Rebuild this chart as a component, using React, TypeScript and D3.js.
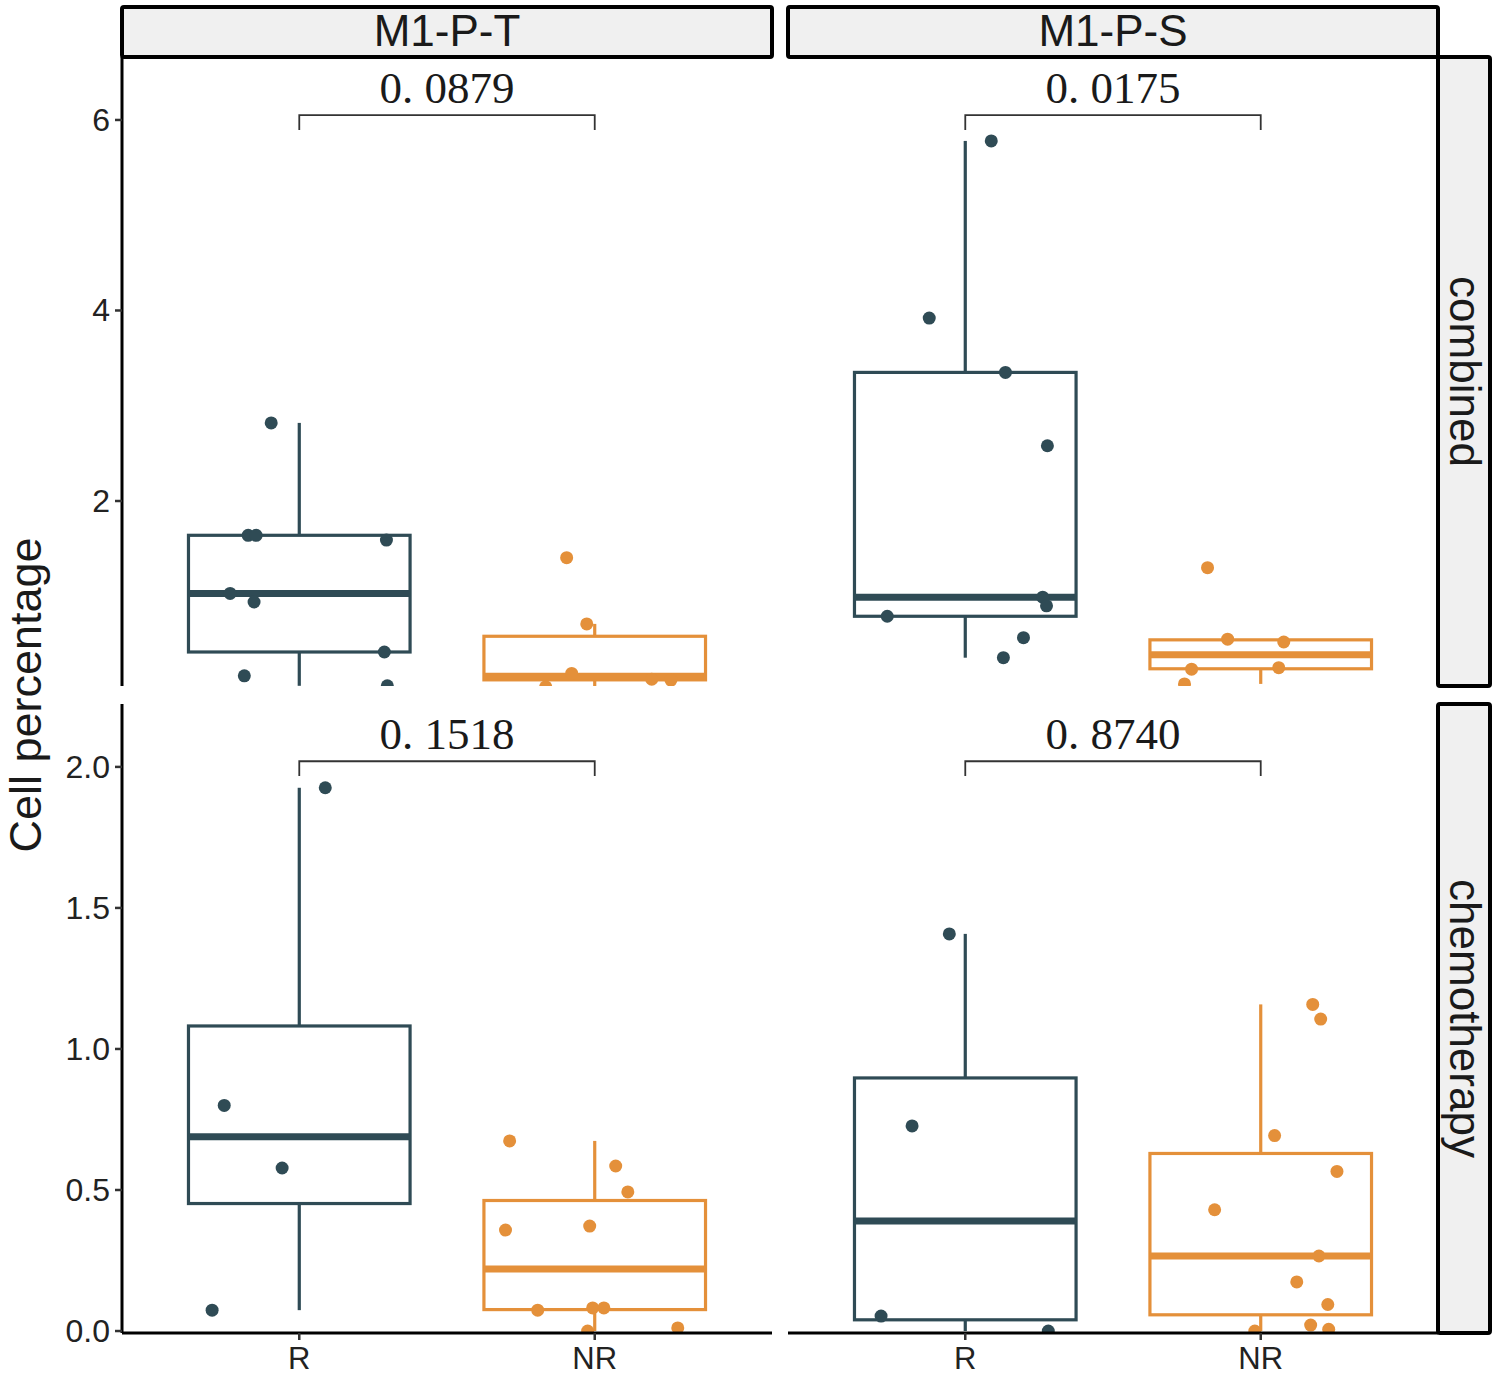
import React from "react";
import * as d3 from "d3";

// ---------- data ----------
const subsets = ["M1-P-T", "M1-P-S"];
const treatments = ["combined", "chemotherapy"];
const groups = ["R", "NR"];
const groupColors = ["#2F4B55", "#E4903A"];

// combined / M1-P-T
const combT_R = [2.82, 1.64, 1.64, 1.59, 1.03, 0.94, 0.415, 0.165, 0.06];
const combT_R_jit = [-0.095, -0.173, -0.146, 0.295, -0.234, -0.153, 0.288, -0.186, 0.298];
const combT_NR = [1.405, 0.71, 0.19, 0.05, 0.13, 0.12];
const combT_NR_jit = [-0.095, -0.027, -0.078, -0.166, 0.193, 0.258];
// combined / M1-P-S
const combS_R = [5.78, 3.92, 3.35, 2.58, 0.99, 0.9, 0.79, 0.565, 0.355];
const combS_R_jit = [0.088, -0.122, 0.136, 0.278, 0.262, 0.275, -0.264, 0.197, 0.129];
const combS_NR = [1.3, 0.55, 0.52, 0.235, 0.25, 0.08];
const combS_NR_jit = [-0.18, -0.112, 0.078, -0.234, 0.061, -0.258];
// chemotherapy / M1-P-T
const chemT_R = [1.926, 0.8, 0.578, 0.074];
const chemT_R_jit = [0.088, -0.254, -0.058, -0.295];
const chemT_NR = [0.674, 0.585, 0.493, 0.358, 0.372, 0.074, 0.082, 0.082, 0.011, 0.0];
const chemT_NR_jit = [-0.288, 0.071, 0.112, -0.302, -0.017, -0.193, -0.007, 0.031, 0.281, -0.024];
// chemotherapy / M1-P-S
const chemS_R = [1.408, 0.727, 0.053, 0.0];
const chemS_R_jit = [-0.054, -0.18, -0.285, 0.281];
const chemS_NR = [1.158, 1.106, 0.693, 0.566, 0.43, 0.266, 0.174, 0.094, 0.021, 0.006, 0.0];
const chemS_NR_jit = [0.176, 0.203, 0.047, 0.258, -0.156, 0.197, 0.122, 0.227, 0.169, 0.23, -0.02];

const pValues = [
  ["0. 0879", "0. 0175"],
  ["0. 1518", "0. 8740"],
];

const yTicks = [
  [2, 4, 6],
  [0, 0.5, 1.0, 1.5, 2.0],
];
const yTickLabels = [
  ["2", "4", "6"],
  ["0.0", "0.5", "1.0", "1.5", "2.0"],
];
const yDomains = [
  [0.058, 6.661],
  [-0.007, 2.223],
];
const bracketLevels = [6.05, 2.02];
const bracketTips = [5.895, 1.968];

const panelValues = [
  [
    [combT_R, combT_NR],
    [combS_R, combS_NR],
  ],
  [
    [chemT_R, chemT_NR],
    [chemS_R, chemS_NR],
  ],
];
const panelJitter = [
  [
    [combT_R_jit, combT_NR_jit],
    [combS_R_jit, combS_NR_jit],
  ],
  [
    [chemT_R_jit, chemT_NR_jit],
    [chemS_R_jit, chemS_NR_jit],
  ],
];

// ---------- layout ----------
const W = 1496;
const H = 1374;
const colX = [
  [122, 772],
  [788, 1438],
];
const rowY = [
  [57, 686],
  [704, 1333],
];
const stripTop = 7;
const stripRight = 1490;
const sans = "'Liberation Sans', Arial, sans-serif";
const serif = "'Liberation Serif', 'Times New Roman', serif";

function boxStats(vals: number[]) {
  const s = [...vals].sort(d3.ascending);
  const q1 = d3.quantile(s, 0.25) as number;
  const med = d3.quantile(s, 0.5) as number;
  const q3 = d3.quantile(s, 0.75) as number;
  const iqr = q3 - q1;
  const lo = d3.min(s.filter((v) => v >= q1 - 1.5 * iqr)) as number;
  const hi = d3.max(s.filter((v) => v <= q3 + 1.5 * iqr)) as number;
  return { q1, med, q3, lo, hi };
}

function Panel({ r, c }: { r: number; c: number }) {
  const [x0, x1] = colX[c];
  const [y0, y1] = rowY[r];
  const x = d3.scaleLinear().domain([0.4, 2.6]).range([x0, x1]);
  const y = d3.scaleLinear().domain(yDomains[r]).range([y1, y0]);
  const clipId = `clip-${r}-${c}`;
  const bw = 0.75;
  return (
    <g>
      <defs>
        <clipPath id={clipId}>
          <rect x={x0} y={y0} width={x1 - x0} height={y1 - y0} />
        </clipPath>
      </defs>
      <g clipPath={`url(#${clipId})`}>
        {groups.map((g, gi) => {
          const vals = panelValues[r][c][gi];
          const st = boxStats(vals);
          const cx = x(gi + 1);
          const col = groupColors[gi];
          const bl = x(gi + 1 - bw / 2);
          const br = x(gi + 1 + bw / 2);
          return (
            <g key={g}>
              <line x1={cx} x2={cx} y1={y(st.q3)} y2={y(st.hi)} stroke={col} strokeWidth={3.2} />
              <line x1={cx} x2={cx} y1={y(st.q1)} y2={y(st.lo)} stroke={col} strokeWidth={3.2} />
              <rect
                x={bl}
                y={y(st.q3)}
                width={br - bl}
                height={y(st.q1) - y(st.q3)}
                fill="white"
                stroke={col}
                strokeWidth={3.2}
              />
              <line x1={bl} x2={br} y1={y(st.med)} y2={y(st.med)} stroke={col} strokeWidth={7} />
            </g>
          );
        })}
        {groups.map((g, gi) => {
          const vals = panelValues[r][c][gi];
          const jit = panelJitter[r][c][gi];
          return vals.map((v, i) => (
            <circle key={`${g}-${i}`} cx={x(gi + 1 + jit[i])} cy={y(v)} r={6.5} fill={groupColors[gi]} />
          ));
        })}
      </g>
      {/* significance bracket */}
      <path
        d={`M${x(1)},${y(bracketTips[r])}V${y(bracketLevels[r])}H${x(2)}V${y(bracketTips[r])}`}
        fill="none"
        stroke="#333"
        strokeWidth={1.8}
      />
      <text
        x={(x(1) + x(2)) / 2}
        y={y(bracketLevels[r]) - 12}
        textAnchor="middle"
        fontFamily={serif}
        fontSize={45}
        fill="#1a1a1a"
      >
        {pValues[r][c]}
      </text>
      {/* y axis */}
      {c === 0 && (
        <g>
          <line x1={x0} x2={x0} y1={y0} y2={y1} stroke="black" strokeWidth={3} />
          {yTicks[r].map((t, i) => (
            <g key={t}>
              <line x1={x0 - 7} x2={x0} y1={y(t)} y2={y(t)} stroke="#333" strokeWidth={2.5} />
              <text
                x={x0 - 12}
                y={y(t)}
                textAnchor="end"
                dominantBaseline="central"
                fontFamily={sans}
                fontSize={32}
                fill="#222"
              >
                {yTickLabels[r][i]}
              </text>
            </g>
          ))}
        </g>
      )}
      {/* x axis */}
      {r === 1 && (
        <g>
          <line x1={x0} x2={x1} y1={y1} y2={y1} stroke="black" strokeWidth={3} />
          {groups.map((g, gi) => (
            <g key={g}>
              <line x1={x(gi + 1)} x2={x(gi + 1)} y1={y1} y2={y1 + 7} stroke="#333" strokeWidth={2.5} />
              <text
                x={x(gi + 1)}
                y={y1 + 25}
                textAnchor="middle"
                dominantBaseline="central"
                fontFamily={sans}
                fontSize={31}
                fill="#222"
              >
                {g}
              </text>
            </g>
          ))}
        </g>
      )}
    </g>
  );
}

export default function App() {
  return (
    <svg
      width={W}
      height={H}
      viewBox={`0 0 ${W} ${H}`}
      style={{ position: "absolute", left: 0, top: 0, background: "white" }}
    >
      <rect x={0} y={0} width={W} height={H} fill="white" />
      {treatments.map((t, r) =>
        subsets.map((s, c) => <Panel key={`${t}-${s}`} r={r} c={c} />)
      )}
      {/* top strips */}
      {subsets.map((s, c) => (
        <g key={s}>
          <rect
            x={colX[c][0]}
            y={stripTop}
            width={colX[c][1] - colX[c][0]}
            height={rowY[0][0] - stripTop}
            fill="#F0F0F0"
            stroke="black"
            strokeWidth={4}
            rx={2}
          />
          <text
            x={(colX[c][0] + colX[c][1]) / 2}
            y={46}
            textAnchor="middle"
            fontFamily={sans}
            fontSize={44}
            fill="#1a1a1a"
          >
            {s}
          </text>
        </g>
      ))}
      {/* right strips */}
      {treatments.map((t, r) => (
        <g key={t}>
          <rect
            x={colX[1][1]}
            y={rowY[r][0]}
            width={stripRight - colX[1][1]}
            height={rowY[r][1] - rowY[r][0]}
            fill="#F0F0F0"
            stroke="black"
            strokeWidth={4}
            rx={2}
          />
          <text
            transform={`translate(${colX[1][1] + 12},${(rowY[r][0] + rowY[r][1]) / 2}) rotate(90)`}
            textAnchor="middle"
            fontFamily={sans}
            fontSize={44}
            fill="#1a1a1a"
          >
            {t}
          </text>
        </g>
      ))}
      {/* y title */}
      <text
        transform={`translate(41,${(rowY[0][0] + rowY[1][1]) / 2}) rotate(-90)`}
        textAnchor="middle"
        fontFamily={sans}
        fontSize={45}
        fill="#1a1a1a"
      >
        Cell percentage
      </text>
    </svg>
  );
}
